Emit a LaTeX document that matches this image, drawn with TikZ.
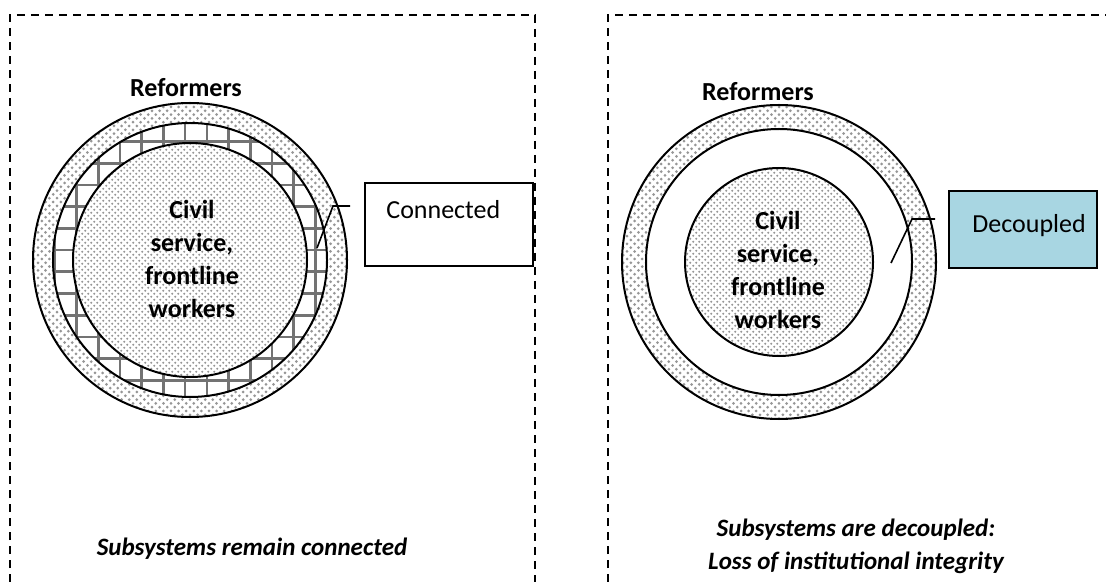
\documentclass[tikz,border=0pt]{standalone}
\usepackage{fontspec}
\setmainfont{Carlito}
\usepackage{tikz}
\usetikzlibrary{patterns}

\pgfdeclarepatternformonly{ringdots}{\pgfqpoint{-0.9pt}{-0.9pt}}{\pgfqpoint{2.9pt}{2.9pt}}{\pgfqpoint{3.8pt}{3.8pt}}{%
  \pgfpathcircle{\pgfqpoint{0pt}{0pt}}{0.75pt}%
  \pgfpathcircle{\pgfqpoint{1.9pt}{1.9pt}}{0.75pt}%
  \pgfusepath{fill}}
\pgfdeclarepatternformonly{coredots}{\pgfqpoint{-0.7pt}{-0.7pt}}{\pgfqpoint{2.5pt}{2.5pt}}{\pgfqpoint{3.2pt}{3.2pt}}{%
  \pgfpathcircle{\pgfqpoint{0pt}{0pt}}{0.62pt}%
  \pgfpathcircle{\pgfqpoint{1.6pt}{1.6pt}}{0.62pt}%
  \pgfusepath{fill}}

\begin{document}
\begin{tikzpicture}[
  x=0.5pt, y=-0.5pt,
  panel/.style={
    draw=black,
    line width=0.8pt,
    dash pattern=on 4pt off 3pt
  },
  ring/.style={draw=black, line width=1pt},
  ringfill/.style={pattern=ringdots, pattern color=dotgray},
  corefill/.style={pattern=coredots, pattern color=dotgray},
  gridline/.style={draw=black!55, line width=1.3pt},
  callout/.style={draw=black, line width=0.8pt},
  tagbox/.style={
    draw=black,
    line width=0.8pt,
    minimum width=84pt,
    minimum height=41.5pt,
    inner sep=0pt
  },
  tagtext/.style={
    font=\fontsize{13}{16.4}\selectfont,
    anchor=west,
    inner sep=0pt
  },
  groupname/.style={
    font=\fontsize{13}{16.4}\selectfont\bfseries,
    align=center
  },
  caption/.style={
    font=\fontsize{12.5}{16.5}\selectfont\bfseries\itshape,
    align=center
  }
]

\definecolor{dotgray}{RGB}{150,150,150}
\definecolor{decoupcol}{RGB}{168,214,226}

\useasboundingbox (0,0) rectangle (1106,582);

% dashed panels
\draw[panel] (10,582) -- (10,15) -- (535,15) -- (535,582);
\draw[panel] (608,582) -- (608,15) -- (1106,15);

% left panel: connected
\coordinate (lc) at (190,260);
\fill[ringfill] (lc) circle (157);
\fill[white] (lc) circle (137);
\begin{scope}
  \clip (lc) circle (137);
  \foreach \k in {0,...,13} {
    \draw[gridline] (54.9+21.7*\k,100) -- (54.9+21.7*\k,420);
    \draw[gridline] (30,119.9+21.7*\k) -- (350,119.9+21.7*\k);
  }
\end{scope}
\fill[white] (lc) circle (117);
\fill[corefill] (lc) circle (117);
\draw[ring] (lc) circle (157) (lc) circle (137) (lc) circle (117);

\node[groupname] (lreform) at (186,88) {Reformers};
\node[groupname] (lcore) at (192,259)
  {Civil\\service,\\frontline\\workers};

\node[tagbox] (connbox) at (449,224.5) {};
\node[tagtext] (conntext) at (386,210) {Connected};
\coordinate (conntip) at (317,248);
\coordinate (connknee) at (333,206);
\coordinate (connend) at (350,206);
\draw[callout] (conntip) -- (connknee) -- (connend);

\node[caption] (lcap) at (252,549) {Subsystems remain connected};

% right panel: decoupled
\coordinate (rc) at (779,262);
\fill[ringfill] (rc) circle (157);
\fill[white] (rc) circle (133);
\fill[corefill] (rc) circle (94);
\draw[ring] (rc) circle (157) (rc) circle (133) (rc) circle (94);

\node[groupname] (rreform) at (758,92) {Reformers};
\node[groupname] (rcore) at (778,270)
  {Civil\\service,\\frontline\\workers};

\node[tagbox, fill=decoupcol, minimum width=74pt, minimum height=38.5pt] (decbox) at (1023,229.5) {};
\node[tagtext] (dectext) at (972,226) {Decoupled};
\coordinate (dectip) at (891,263);
\coordinate (decknee) at (912,219);
\coordinate (decend) at (935,219);
\draw[callout] (dectip) -- (decknee) -- (decend);

\node[caption] (rcap) at (856,546)
  {Subsystems are decoupled:\\Loss of institutional integrity};

\end{tikzpicture}
\end{document}
